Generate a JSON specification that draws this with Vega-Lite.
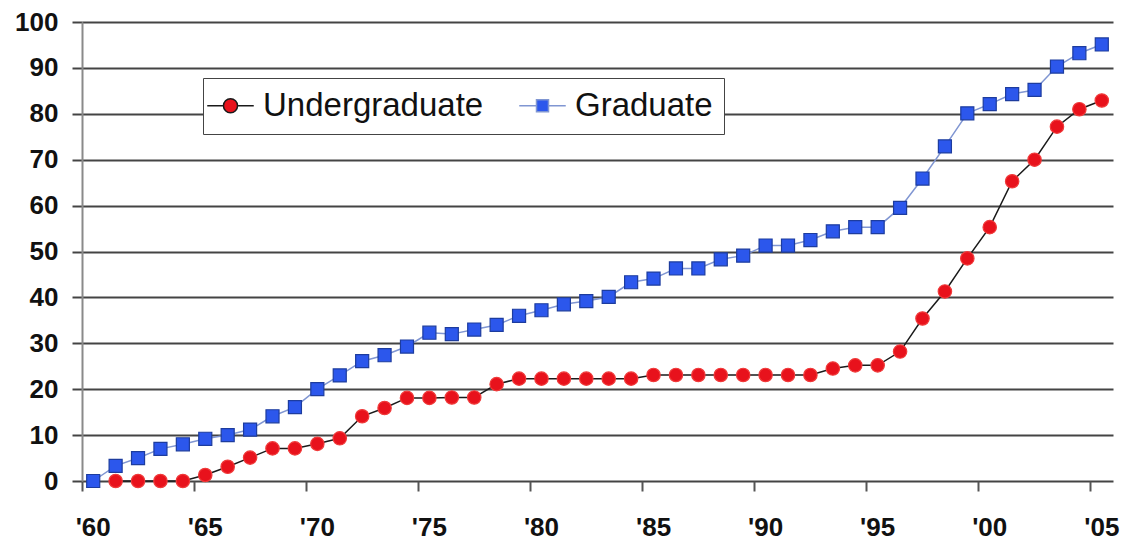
{
  "$schema": "https://vega.github.io/schema/vega-lite/v6.json",
  "width": 1031,
  "height": 459,
  "autosize": "none",
  "padding": {"left": 82, "top": 22, "right": 11, "bottom": 64},
  "background": "white",
  "config": {"view": {"stroke": null}, "font": "Liberation Sans"},
  "data": {"values": [
    {"year":1960,"series":"Graduate","value":0},
    {"year":1961,"series":"Graduate","value":3.3},
    {"year":1962,"series":"Graduate","value":5},
    {"year":1963,"series":"Graduate","value":7},
    {"year":1964,"series":"Graduate","value":8},
    {"year":1965,"series":"Graduate","value":9.2},
    {"year":1966,"series":"Graduate","value":10},
    {"year":1967,"series":"Graduate","value":11.2},
    {"year":1968,"series":"Graduate","value":14.1},
    {"year":1969,"series":"Graduate","value":16.1},
    {"year":1970,"series":"Graduate","value":20},
    {"year":1971,"series":"Graduate","value":23},
    {"year":1972,"series":"Graduate","value":26.1},
    {"year":1973,"series":"Graduate","value":27.4},
    {"year":1974,"series":"Graduate","value":29.3},
    {"year":1975,"series":"Graduate","value":32.3},
    {"year":1976,"series":"Graduate","value":32},
    {"year":1977,"series":"Graduate","value":33},
    {"year":1978,"series":"Graduate","value":34},
    {"year":1979,"series":"Graduate","value":36},
    {"year":1980,"series":"Graduate","value":37.2},
    {"year":1981,"series":"Graduate","value":38.5},
    {"year":1982,"series":"Graduate","value":39.2},
    {"year":1983,"series":"Graduate","value":40.1},
    {"year":1984,"series":"Graduate","value":43.3},
    {"year":1985,"series":"Graduate","value":44.1},
    {"year":1986,"series":"Graduate","value":46.3},
    {"year":1987,"series":"Graduate","value":46.3},
    {"year":1988,"series":"Graduate","value":48.3},
    {"year":1989,"series":"Graduate","value":49.1},
    {"year":1990,"series":"Graduate","value":51.3},
    {"year":1991,"series":"Graduate","value":51.3},
    {"year":1992,"series":"Graduate","value":52.5},
    {"year":1993,"series":"Graduate","value":54.4},
    {"year":1994,"series":"Graduate","value":55.3},
    {"year":1995,"series":"Graduate","value":55.3},
    {"year":1996,"series":"Graduate","value":59.5},
    {"year":1997,"series":"Graduate","value":65.9},
    {"year":1998,"series":"Graduate","value":72.9},
    {"year":1999,"series":"Graduate","value":80.1},
    {"year":2000,"series":"Graduate","value":82.1},
    {"year":2001,"series":"Graduate","value":84.3},
    {"year":2002,"series":"Graduate","value":85.2},
    {"year":2003,"series":"Graduate","value":90.3},
    {"year":2004,"series":"Graduate","value":93.2},
    {"year":2005,"series":"Graduate","value":95.1},
    {"year":1961,"series":"Undergraduate","value":0},
    {"year":1962,"series":"Undergraduate","value":0},
    {"year":1963,"series":"Undergraduate","value":0},
    {"year":1964,"series":"Undergraduate","value":0},
    {"year":1965,"series":"Undergraduate","value":1.3},
    {"year":1966,"series":"Undergraduate","value":3.1},
    {"year":1967,"series":"Undergraduate","value":5.1},
    {"year":1968,"series":"Undergraduate","value":7.1},
    {"year":1969,"series":"Undergraduate","value":7.1},
    {"year":1970,"series":"Undergraduate","value":8.1},
    {"year":1971,"series":"Undergraduate","value":9.3},
    {"year":1972,"series":"Undergraduate","value":14.1},
    {"year":1973,"series":"Undergraduate","value":15.9},
    {"year":1974,"series":"Undergraduate","value":18.1},
    {"year":1975,"series":"Undergraduate","value":18.1},
    {"year":1976,"series":"Undergraduate","value":18.2},
    {"year":1977,"series":"Undergraduate","value":18.2},
    {"year":1978,"series":"Undergraduate","value":21.1},
    {"year":1979,"series":"Undergraduate","value":22.3},
    {"year":1980,"series":"Undergraduate","value":22.3},
    {"year":1981,"series":"Undergraduate","value":22.3},
    {"year":1982,"series":"Undergraduate","value":22.3},
    {"year":1983,"series":"Undergraduate","value":22.3},
    {"year":1984,"series":"Undergraduate","value":22.3},
    {"year":1985,"series":"Undergraduate","value":23.1},
    {"year":1986,"series":"Undergraduate","value":23.1},
    {"year":1987,"series":"Undergraduate","value":23.1},
    {"year":1988,"series":"Undergraduate","value":23.1},
    {"year":1989,"series":"Undergraduate","value":23.1},
    {"year":1990,"series":"Undergraduate","value":23.1},
    {"year":1991,"series":"Undergraduate","value":23.1},
    {"year":1992,"series":"Undergraduate","value":23.1},
    {"year":1993,"series":"Undergraduate","value":24.5},
    {"year":1994,"series":"Undergraduate","value":25.2},
    {"year":1995,"series":"Undergraduate","value":25.2},
    {"year":1996,"series":"Undergraduate","value":28.2},
    {"year":1997,"series":"Undergraduate","value":35.4},
    {"year":1998,"series":"Undergraduate","value":41.3},
    {"year":1999,"series":"Undergraduate","value":48.5},
    {"year":2000,"series":"Undergraduate","value":55.3},
    {"year":2001,"series":"Undergraduate","value":65.3},
    {"year":2002,"series":"Undergraduate","value":70},
    {"year":2003,"series":"Undergraduate","value":77.2},
    {"year":2004,"series":"Undergraduate","value":81},
    {"year":2005,"series":"Undergraduate","value":82.9}
  ]},
  "encoding": {
    "x": {
      "field": "year", "type": "ordinal",
      "scale": {"type": "band", "paddingInner": 0, "paddingOuter": 0},
      "axis": {
        "title": null,
        "values": [1960,1965,1970,1975,1980,1985,1990,1995,2000,2005],
        "bandPosition": 0,
        "labelExpr": "\"'\" + substring(datum.label, 2)",
        "labelAngle": 0,
        "labelFont": "Liberation Sans",
        "labelFontSize": 26,
        "labelFontWeight": "bold",
        "labelColor": "#111",
        "labelPadding": 23,
        "tickSize": 10,
        "tickWidth": 2,
        "tickColor": "#555",
        "domain": false,
        "grid": false
      }
    },
    "y": {
      "field": "value", "type": "quantitative",
      "scale": {"domain": [0, 100], "nice": false, "zero": true},
      "axis": {
        "title": null,
        "values": [0,10,20,30,40,50,60,70,80,90,100],
        "labelFont": "Liberation Sans",
        "labelFontSize": 26,
        "labelFontWeight": "bold",
        "labelColor": "#111",
        "labelPadding": 14,
        "tickSize": 10,
        "tickWidth": 2,
        "tickColor": "#444",
        "grid": true,
        "gridColor": "#444",
        "gridWidth": 2,
        "gridOpacity": 1,
        "domain": true,
        "domainColor": "#8a8a8a",
        "domainWidth": 2
      }
    }
  },
  "layer": [
    {
      "mark": {"type": "line", "strokeWidth": 1.5},
      "encoding": {
        "color": {
          "field": "series", "type": "nominal",
          "scale": {"domain": ["Undergraduate", "Graduate"], "range": ["#1a1a1a", "#8096d2"]},
          "legend": {
            "title": null,
            "orient": "none",
            "legendX": 121,
            "legendY": 56,
            "direction": "horizontal",
            "symbolSize": 900,
            "symbolStrokeWidth": 1.5,
            "labelFont": "Liberation Sans",
            "labelFontSize": 33,
            "labelColor": "#111",
            "labelLimit": 500,
            "labelOffset": 16,
            "columnPadding": 32,
            "padding": 11,
            "strokeColor": "#444",
            "fillColor": "white",
            "encode": {
              "symbols": {
                "update": {
                  "shape": {"signal": "datum.value === 'Undergraduate' ? 'M-1.55,0H-0.47M0.47,0H1.55M0.47,0A0.47,0.47,0,1,1,-0.47,0A0.47,0.47,0,1,1,0.47,0Z' : 'M-1.55,0H-0.4M0.4,0H1.55M-0.4,-0.4H0.4V0.4H-0.4Z'"},
                  "fill": {"signal": "datum.value === 'Undergraduate' ? '#e8121c' : '#2c57ec'"},
                  "fillOpacity": {"value": 1},
                  "opacity": {"value": 1}
                }
              }
            }
          }
        }
      }
    },
    {
      "transform": [{"filter": "datum.series === 'Undergraduate'"}],
      "mark": {"type": "point", "shape": "circle", "filled": true, "opacity": 1, "fill": "#e8121c", "stroke": "#f03a3a", "strokeWidth": 1.2, "size": 180}
    },
    {
      "transform": [{"filter": "datum.series === 'Graduate'"}],
      "mark": {"type": "point", "shape": "square", "filled": true, "opacity": 1, "fill": "#2c57ec", "stroke": "#1d3c9e", "strokeWidth": 1.2, "size": 170}
    }
  ]
}
